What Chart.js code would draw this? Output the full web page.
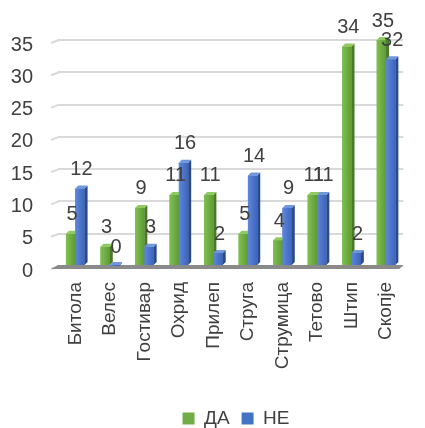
<!DOCTYPE html>
<html>
<head>
<meta charset="utf-8">
<script src="https://cdn.jsdelivr.net/npm/chart.js@4"></script>
<style>
  html, body { margin: 0; padding: 0; background: #ffffff; }
  #myChart { display: block; }
</style>
</head>
<body>
<canvas id="myChart" width="425" height="428"></canvas>
<script>
var cities = ['Битола', 'Велес', 'Гостивар', 'Охрид', 'Прилеп', 'Струга', 'Струмица', 'Тетово', 'Штип', 'Скопје'];
var daValues = [5, 3, 9, 11, 11, 5, 4, 11, 34, 35];
var neValues = [12, 0, 3, 16, 2, 14, 9, 11, 2, 32];
var yTicks = [0, 5, 10, 15, 20, 25, 30, 35];

var textColor = '#404040';
var depth = 3;

// colours for the fake 3d faces: [front light, front dark, side, top]
var faceColors = [
    ['#80c052', '#5f9b35', '#4a7a28', '#8fca63'],
    ['#5e88d8', '#3c64bd', '#2b4a8c', '#7096dc']
];

var bars3d = {
    id: 'bars3d',
    afterLayout: function(chart) {
        // legend sits centred under the plot, not the canvas
        chart.legend.left += 20;
        chart.legend.right += 20;
    },
    beforeDatasetsDraw: function(chart) {
        var ctx = chart.ctx;
        var area = chart.chartArea;
        var y = chart.scales.y;
        ctx.save();
        // little slanted ends on the left of the gridlines
        ctx.strokeStyle = '#d9d9d9';
        ctx.lineWidth = 2;
        yTicks.forEach(function(t) {
            var py = y.getPixelForValue(t);
            ctx.beginPath();
            ctx.moveTo(area.left - 7, py + 3);
            ctx.lineTo(area.left + 1, py);
            ctx.stroke();
        });
        // floor
        var base = y.getPixelForValue(0);
        ctx.fillStyle = '#8a8a8a';
        ctx.beginPath();
        ctx.moveTo(area.left - 7, base + 3);
        ctx.lineTo(area.left, base - 1);
        ctx.lineTo(area.right, base - 1);
        ctx.lineTo(area.right - 4, base + 3);
        ctx.closePath();
        ctx.fill();
        ctx.restore();
    },
    afterDatasetsDraw: function(chart) {
        var ctx = chart.ctx;
        ctx.save();
        chart.data.datasets.forEach(function(ds, di) {
            var meta = chart.getDatasetMeta(di);
            var c = faceColors[di];
            meta.data.forEach(function(bar) {
                var p = bar.getProps(['x', 'y', 'base', 'width'], true);
                var xl = p.x - p.width / 2;
                var xr = p.x + p.width / 2;
                var top = Math.min(p.y, p.base - 1);
                var g = ctx.createLinearGradient(xl, 0, xr, 0);
                g.addColorStop(0, c[0]);
                g.addColorStop(1, c[1]);
                ctx.fillStyle = g;
                ctx.fillRect(xl, top, p.width, p.base - top);
                // side
                ctx.fillStyle = c[2];
                ctx.beginPath();
                ctx.moveTo(xr, top);
                ctx.lineTo(xr + depth, top - depth);
                ctx.lineTo(xr + depth, p.base - depth);
                ctx.lineTo(xr, p.base);
                ctx.closePath();
                ctx.fill();
                // top
                ctx.fillStyle = c[3];
                ctx.beginPath();
                ctx.moveTo(xl, top);
                ctx.lineTo(xl + depth, top - depth);
                ctx.lineTo(xr + depth, top - depth);
                ctx.lineTo(xr, top);
                ctx.closePath();
                ctx.fill();
            });
        });
        ctx.restore();
    },
    afterDraw: function(chart) {
        var ctx = chart.ctx;
        ctx.save();
        ctx.fillStyle = textColor;
        ctx.font = '20px "Liberation Sans", Arial, sans-serif';
        ctx.textAlign = 'center';
        ctx.textBaseline = 'bottom';
        chart.data.datasets.forEach(function(ds, di) {
            var meta = chart.getDatasetMeta(di);
            meta.data.forEach(function(bar, i) {
                var p = bar.getProps(['x', 'y'], true);
                ctx.fillText(String(ds.data[i]), p.x + 1.5, p.y - 9);
            });
        });
        ctx.restore();
    }
};

document.addEventListener('DOMContentLoaded', drawChart);

function drawChart(){
    var ctx = document.getElementById('myChart').getContext('2d');
    var chart = new Chart(ctx, {
        type: 'bar',
        data: {
            labels: cities,
            datasets: [{
                label: 'ДА',
                data: daValues,
                backgroundColor: '#70ad47'
            },
            {
                label: 'НЕ',
                data: neValues,
                backgroundColor: '#4472c4'
            }]
        },
        options: {
            responsive: false,
            devicePixelRatio: 1,
            animation: false,
            categoryPercentage: 0.54,
            barPercentage: 1.0,
            layout: {padding: {top: 40, left: 10, right: 3, bottom: -10}},
            plugins: {
                legend: {
                    position: 'bottom',
                    labels: {
                        color: textColor,
                        font: {family: '"Liberation Sans", Arial, sans-serif', size: 19},
                        boxWidth: 12,
                        boxHeight: 12,
                        padding: 12
                    }
                },
                tooltip: {enabled: false}
            },
            scales: {
                x: {
                    grid: {display: false, drawTicks: false},
                    border: {display: false},
                    ticks: {
                        color: textColor,
                        font: {family: '"Liberation Sans", Arial, sans-serif', size: 19},
                        maxRotation: 90,
                        minRotation: 90,
                        padding: 16,
                        autoSkip: false
                    },
                    afterFit: function(scale) { scale.height = 131; }
                },
                y: {
                    min: 0,
                    max: 35,
                    grid: {color: '#d9d9d9', lineWidth: 2, drawTicks: false},
                    border: {display: false},
                    ticks: {
                        stepSize: 5,
                        color: textColor,
                        font: {family: '"Liberation Sans", Arial, sans-serif', size: 20},
                        padding: 25,
                        labelOffset: 5
                    },
                    afterFit: function(scale) { scale.width = 48; }
                }
            }
        },
        plugins: [bars3d]
    });
}
</script>
</body>
</html>
